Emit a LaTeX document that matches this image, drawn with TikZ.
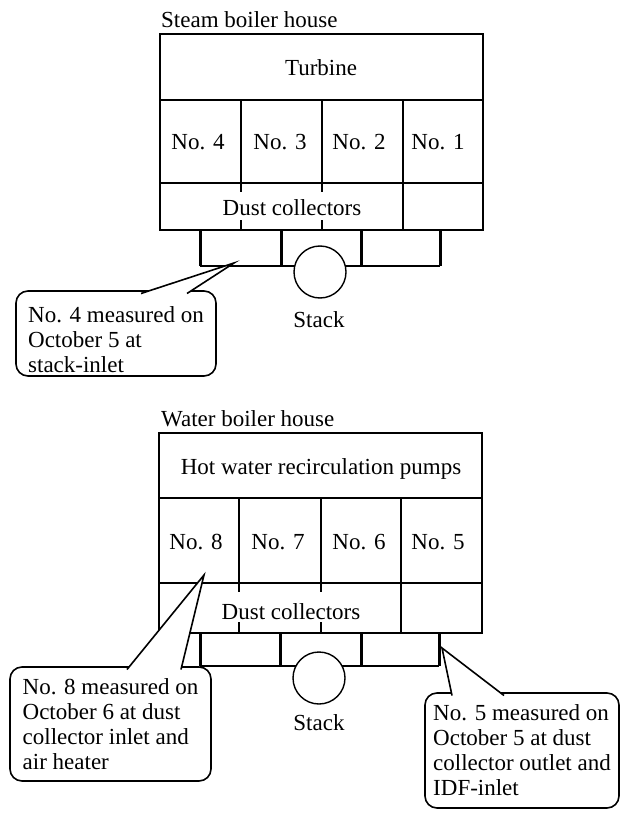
\documentclass[tikz,border=0pt]{standalone}
\usepackage{fontspec}
\setmainfont{Liberation Serif}
\begin{document}
\begin{tikzpicture}[x=1pt, y=-1pt,
  lbl/.style={font=\fontsize{23}{25}\selectfont, inner sep=0pt},
  wall/.style={line width=1.4pt},
  divider/.style={line width=2.4pt},
  duct/.style={line width=3pt},
  stack/.style={draw, fill=white, circle, line width=1.4pt, minimum size=52pt, inner sep=0pt},
  bubble/.style={draw, fill=white, line width=1.6pt, rounded corners=12pt, align=left,
    font=\fontsize{23}{25}\selectfont, inner xsep=0pt, inner ysep=0pt},
  tail/.style={line width=1.6pt}]

\useasboundingbox (0,0) rectangle (623,813);

% steam boiler house
\node[lbl, anchor=west] (steam) at (161,20) {Steam boiler house};
\draw[wall] (160,34) rectangle (483,230);
\draw[wall] (160,100) -- (483,100);
\draw[wall] (160,183) -- (483,183);
\draw[divider] (241,100) -- (241,183) (241,183) -- (241,192) (241,220) -- (241,230);
\draw[divider] (322,100) -- (322,183) (322,183) -- (322,192) (322,220) -- (322,230);
\draw[divider] (403,100) -- (403,230);

\node[lbl] (turbine) at (321,68) {Turbine};
\node[lbl] (b4) at (198,142) {No. 4};
\node[lbl] (b3) at (280,142) {No. 3};
\node[lbl] (b2) at (359,142) {No. 2};
\node[lbl] (b1) at (438,142) {No. 1};
\node[lbl] (dust1) at (292,208) {Dust collectors};

% ducts and stack
\draw[duct] (200,230) -- (200,266);
\draw[duct] (281,230) -- (281,266);
\draw[duct] (361,230) -- (361,266);
\draw[duct] (440,230) -- (440,266);
\draw[wall] (200,266) -- (440,266);
\node[stack] (stack1) at (320,272) {};
\node[lbl] (stacklbl1) at (319,320) {Stack};

% callout
\node[bubble, minimum width=200pt, minimum height=85pt] (note4) at (116,333.5)
  {\rule{0pt}{28pt}No. 4 measured on\\October 5 at\\stack-inlet};
\coordinate (t4a) at (141,293.5);
\coordinate (t4b) at (187,293.5);
\coordinate (tip4) at (234,263);
\fill[white] (t4a) -- (tip4) -- (t4b) -- cycle;
\draw[tail] (t4a) -- (tip4) -- (t4b);

% water boiler house
\node[lbl, anchor=west] (water) at (161,419) {Water boiler house};
\draw[wall] (159,433) rectangle (482,633);
\draw[wall] (159,498) -- (482,498);
\draw[wall] (159,583) -- (482,583);
\draw[divider] (239,498) -- (239,583) (239,583) -- (239,592) (239,622) -- (239,633);
\draw[divider] (321,498) -- (321,583) (321,583) -- (321,592) (321,622) -- (321,633);
\draw[divider] (401,498) -- (401,633);

\node[lbl] (pumps) at (321,469) {Hot water recirculation pumps};
\node[lbl] (b8) at (196,542) {No. 8};
\node[lbl] (b7) at (278,542) {No. 7};
\node[lbl] (b6) at (359,542) {No. 6};
\node[lbl] (b5) at (438,542) {No. 5};
\node[lbl] (dust2) at (291,612) {Dust collectors};

% ducts and stack
\draw[duct] (200,633) -- (200,666);
\draw[duct] (280,633) -- (280,666);
\draw[duct] (361,633) -- (361,666);
\draw[duct] (439,633) -- (439,666);
\draw[wall] (200,666) -- (439,666);
\node[stack] (stack2) at (319,678) {};
\node[lbl] (stacklbl2) at (319,723) {Stack};

% callouts
\node[bubble, minimum width=201pt, minimum height=114pt] (note8) at (110.5,724)
  {No. 8 measured on\\October 6 at dust\\collector inlet and\\air heater};
\coordinate (t8a) at (127,669.5);
\coordinate (t8b) at (181,669.5);
\coordinate (tip8) at (204,575);
\fill[white] (t8a) -- (tip8) -- (t8b) -- cycle;
\draw[tail] (t8a) -- (tip8) -- (t8b);

\node[bubble, minimum width=194pt, minimum height=115pt] (note5) at (522,750.5)
  {No. 5 measured on\\October 5 at dust\\collector outlet and\\IDF-inlet};
\coordinate (t5a) at (452,695.5);
\coordinate (t5b) at (504,695.5);
\coordinate (tip5) at (442,648);
\fill[white] (t5a) -- (tip5) -- (t5b) -- cycle;
\draw[tail] (t5a) -- (tip5) -- (t5b);

\end{tikzpicture}
\end{document}
